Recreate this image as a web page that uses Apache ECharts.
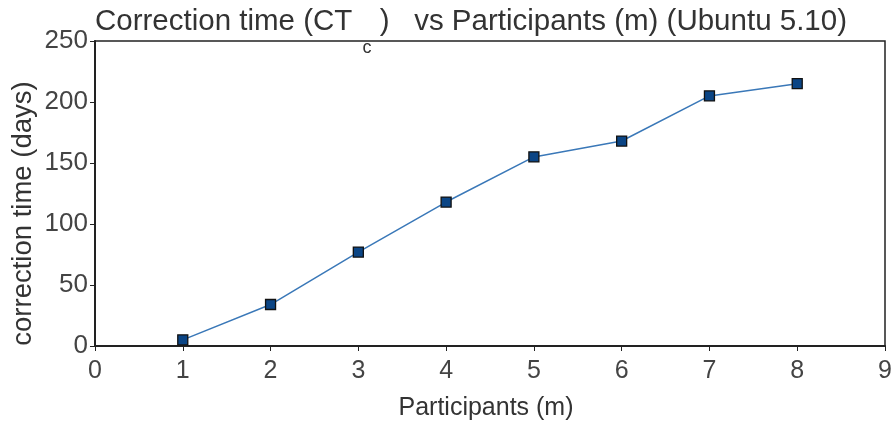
<!DOCTYPE html>
<html>
<head>
<meta charset="utf-8">
<script src="https://cdn.jsdelivr.net/npm/echarts@6/dist/echarts.min.js"></script>
<style>html,body{margin:0;padding:0;background:#fff}#c{width:893px;height:421px}</style>
</head>
<body>
<div id="c"></div>
<script>
const participants = [1, 2, 3, 4, 5, 6, 7, 8];
const correctionDays = [5, 34, 77, 118, 155, 168, 205, 215];
const xTicks = [0, 1, 2, 3, 4, 5, 6, 7, 8, 9];
const yTicks = [0, 50, 100, 150, 200, 250];

const chart = echarts.init(document.getElementById('c'), null, {renderer: 'canvas'});
const font = '"Liberation Sans", Arial, sans-serif';
chart.setOption({
  animation: false,
  backgroundColor: '#fff',
  title: {
    text: '{a|Correction time (CT }{s|c}{a| )   vs Participants (m) (Ubuntu 5.10)}',
    left: 95, top: 6, padding: 0,
    textStyle: {
      fontWeight: 'normal',
      rich: {
        a: {fontFamily: font, fontSize: 29.5, fontWeight: 'normal', color: '#333', verticalAlign: 'top', height: 32},
        s: {fontFamily: font, fontSize: 18, fontWeight: 'normal', color: '#333', padding: [33, 0, 0, 2], verticalAlign: 'top'}
      }
    }
  },
  grid: {left: 95, right: 8, top: 41, bottom: 75, containLabel: false, outerBoundsMode: 'none', show: true, borderColor: '#222', borderWidth: 1.5, backgroundColor: 'transparent'},
  xAxis: {
    type: 'value', min: xTicks[0], max: xTicks[xTicks.length - 1], interval: 1,
    name: 'Participants (m)', nameLocation: 'middle', nameGap: 50,
    nameTextStyle: {fontFamily: font, fontSize: 25, color: '#333', padding: [0, 8, 0, 0]},
    axisLine: {show: true, onZero: false, lineStyle: {color: '#222', width: 2}},
    axisTick: {show: true, length: 5, lineStyle: {color: '#222'}},
    axisLabel: {fontFamily: font, fontSize: 25, color: '#444', margin: 13},
    splitLine: {show: false}
  },
  yAxis: {
    type: 'value', min: yTicks[0], max: yTicks[yTicks.length - 1], interval: 50,
    name: 'correction time (days)', nameLocation: 'middle', nameGap: 58, nameRotate: 90,
    nameMoveOverlap: false,
    nameTextStyle: {fontFamily: font, fontSize: 27.5, color: '#333', padding: [0, 40, 0, 0]},
    axisLine: {show: true, onZero: false, lineStyle: {color: '#222', width: 2}},
    axisTick: {show: true, length: 5, lineStyle: {color: '#222'}},
    axisLabel: {fontFamily: font, fontSize: 26, color: '#444', margin: 7},
    splitLine: {show: false}
  },
  series: [{
    type: 'line',
    data: participants.map((p, i) => [p, correctionDays[i]]),
    symbol: 'rect', symbolSize: 10,
    lineStyle: {color: '#3a78b8', width: 1.5},
    itemStyle: {color: '#0b4585', borderColor: '#111', borderWidth: 1.3}
  }]
});
</script>
</body>
</html>
